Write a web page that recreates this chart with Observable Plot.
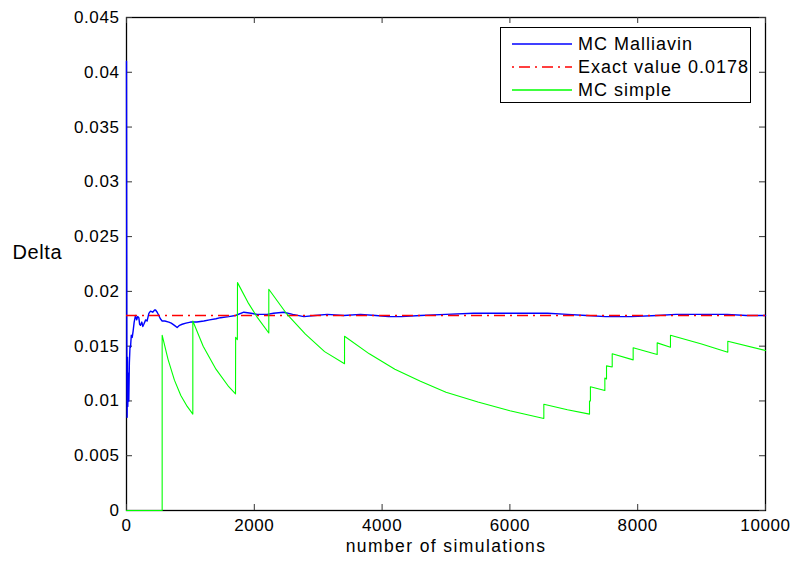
<!DOCTYPE html>
<html>
<head>
<meta charset="utf-8">
<script src="https://cdn.jsdelivr.net/npm/d3@7"></script>
<script src="https://cdn.jsdelivr.net/npm/@observablehq/plot@0.6"></script>
<style>
  html, body { margin: 0; padding: 0; background: #fff; }
  #wrap { position: relative; width: 791px; height: 561px; font-family: "Liberation Sans", Arial, sans-serif; }
  #legend { position: absolute; left: 500px; top: 27px; width: 249px; height: 74px; border: 1.3px solid #000; background: #fff; }
  .row { position: absolute; left: 0; height: 22px; display: flex; align-items: center; font-size: 18px; letter-spacing: 1px; color: #000; }
  .row svg { margin-left: 11px; margin-right: 6px; }
  .xtitle { letter-spacing: 1.4px; }
</style>
</head>
<body>
<div id="wrap"></div>
<script>
// ---- data ----
const xTicks = [0, 2000, 4000, 6000, 8000, 10000];
const xTickLabels = ["0", "2000", "4000", "6000", "8000", "10000"];
const yTicks = [0, 0.005, 0.01, 0.015, 0.02, 0.025, 0.03, 0.035, 0.04, 0.045];
const yTickLabels = ["0", "0.005", "0.01", "0.015", "0.02", "0.025", "0.03", "0.035", "0.04", "0.045"];
const seriesNames = ["MC Malliavin", "Exact value 0.0178", "MC simple"];
const seriesColors = ["#0000ff", "#ff0000", "#00ff00"];
const exactValue = 0.0178;

const malliavinN = [0, 3, 6, 10, 15, 20, 28, 36, 45, 55, 63, 75, 90, 104, 120, 141, 160, 175, 193, 205, 219, 240, 255, 271, 300, 323, 350, 376, 410, 440, 454, 480, 506, 530, 558, 600, 662, 700, 750, 793, 830, 871, 930, 1002, 1100, 1210, 1300, 1400, 1471, 1600, 1706, 1836, 1950, 2045, 2200, 2300, 2462, 2600, 2775, 2950, 3141, 3400, 3662, 3900, 4100, 4300, 4600, 5000, 5430, 5800, 6200, 6590, 6900, 7200, 7500, 7900, 8300, 8600, 9000, 9400, 9700, 10000];
const malliavinDelta = [0.041, 0.025, 0.012, 0.0085, 0.014, 0.0095, 0.0125, 0.0100, 0.0135, 0.0150, 0.0149, 0.0160, 0.0158, 0.0164, 0.0172, 0.0178, 0.0174, 0.0177, 0.0176, 0.0170, 0.0169, 0.0172, 0.0168, 0.0170, 0.0174, 0.0173, 0.0180, 0.0182, 0.0181, 0.0183, 0.0183, 0.0181, 0.0178, 0.0175, 0.0173, 0.0173, 0.0172, 0.0171, 0.0169, 0.0167, 0.0169, 0.0170, 0.0171, 0.0172, 0.0172, 0.0173, 0.0174, 0.0175, 0.0176, 0.0177, 0.0178, 0.0181, 0.0180, 0.0179, 0.0179, 0.0180, 0.0181, 0.0179, 0.0177, 0.0178, 0.0179, 0.0178, 0.0179, 0.0178, 0.0177, 0.0177, 0.0178, 0.0179, 0.0180, 0.0180, 0.0180, 0.0180, 0.0179, 0.0178, 0.0177, 0.0177, 0.0178, 0.0179, 0.0179, 0.0179, 0.0178, 0.0178];

const simpleN = [0, 558, 558, 650, 750, 850, 950, 1038, 1038, 1200, 1400, 1600, 1706, 1708, 1735, 1737, 1900, 2050, 2227, 2227, 2500, 2800, 3100, 3412, 3412, 3800, 4200, 4600, 5000, 5500, 6000, 6531, 6531, 6900, 7246, 7246, 7260, 7260, 7486, 7486, 7512, 7512, 7601, 7601, 7929, 7929, 8305, 8305, 8513, 8513, 9000, 9410, 9410, 10000];
const simpleDelta = [0, 0, 0.0160, 0.0138, 0.0119, 0.0105, 0.0095, 0.0088, 0.0173, 0.0150, 0.0129, 0.0113, 0.01065, 0.0158, 0.0156, 0.0208, 0.0190, 0.0176, 0.0162, 0.0202, 0.0180, 0.0161, 0.0145, 0.0134, 0.0159, 0.0143, 0.0129, 0.0118, 0.0108, 0.0099, 0.0091, 0.0084, 0.0097, 0.0092, 0.0088, 0.0100, 0.0100, 0.0113, 0.01095, 0.0121, 0.0120, 0.0132, 0.0131, 0.0143, 0.01375, 0.01485, 0.01424, 0.0153, 0.0149, 0.0160, 0.0152, 0.01445, 0.01545, 0.0146];

// ---- chart ----
const W = 791, H = 561, mL = 126, mR = 26, mT = 17, mB = 51;
const fw = W - mL - mR, fh = H - mT - mB, tick = 6;
const xLab = new Map(xTicks.map((d, i) => [d, xTickLabels[i]]));
const yLab = new Map(yTicks.map((d, i) => [d, yTickLabels[i]]));
const dash = "11,5,2,5";

const chart = Plot.plot({
  width: W, height: H,
  marginLeft: mL, marginRight: mR, marginTop: mT, marginBottom: mB,
  x: {domain: [0, 10000]},
  y: {domain: [0, 0.045]},
  style: {fontFamily: "'Liberation Sans', Arial, sans-serif", fontSize: "17px", letterSpacing: "0.6px", background: "#fff", color: "#000", overflow: "visible"},
  marks: [
    Plot.frame({stroke: "#000", strokeWidth: 1.3}),
    Plot.tickX(xTicks, {x: d => d, insetTop: fh - tick, stroke: "#333"}),
    Plot.tickX(xTicks, {x: d => d, insetBottom: fh - tick, stroke: "#333"}),
    Plot.tickY(yTicks, {y: d => d, insetRight: fw - tick, stroke: "#333"}),
    Plot.tickY(yTicks, {y: d => d, insetLeft: fw - tick, stroke: "#333"}),
    Plot.axisX(xTicks, {tickSize: 0, tickPadding: 8, tickFormat: d => xLab.get(d), label: null, fontSize: 17}),
    Plot.axisY(yTicks, {tickSize: 0, tickPadding: 7, tickFormat: d => yLab.get(d), label: null, fontSize: 17}),
    Plot.line(malliavinDelta, {x: malliavinN, y: malliavinDelta, stroke: seriesColors[0], strokeWidth: 1.4}),
    Plot.ruleY([exactValue], {stroke: seriesColors[1], strokeWidth: 1.6, strokeDasharray: dash}),
    Plot.line(simpleDelta, {x: simpleN, y: simpleDelta, stroke: seriesColors[2], strokeWidth: 1.1}),
    Plot.text(["Delta"], {frameAnchor: "left", dx: -114, dy: -11, textAnchor: "start", fontSize: 20, fill: "#000"}),
    Plot.text(["number of simulations"], {frameAnchor: "bottom", dy: 41, fontSize: 17.5, fill: "#000", className: "xtitle"})
  ]
});

const wrap = document.getElementById("wrap");
wrap.appendChild(chart);

// legend inside the axes (upper right)
const legend = document.createElement("div");
legend.id = "legend";
seriesNames.forEach((name, i) => {
  const row = document.createElement("div");
  row.className = "row";
  row.style.top = (5 + i * 23) + "px";
  const da = i === 1 ? ` stroke-dasharray="2,5,11,5"` : "";
  row.innerHTML = `<svg width="60" height="4"><line x1="0" y1="2" x2="60" y2="2" stroke="${seriesColors[i]}" stroke-width="1.3"${da}/></svg><span>${name}</span>`;
  legend.appendChild(row);
});
wrap.appendChild(legend);
</script>
</body>
</html>
